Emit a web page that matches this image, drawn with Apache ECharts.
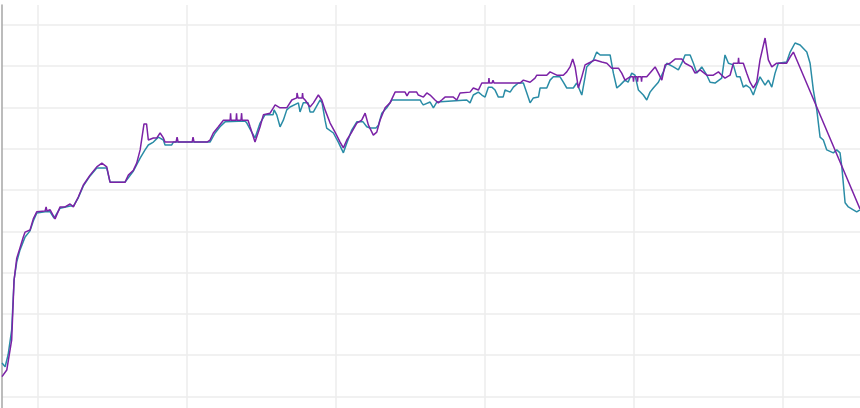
<!DOCTYPE html>
<html lang="en">
<head>
    <meta charset="UTF-8">
    <title>Two traces</title>
    <script src="https://cdn.jsdelivr.net/npm/echarts@6/dist/echarts.min.js"></script>
    <style>
        html, body { margin: 0; padding: 0; background: #fff; }
    </style>
</head>
<body>
<div id="chart" style="width: 860px; height: 408px;"></div>

<script type="text/javascript">
    // axis range (no labels are shown in the picture)
    var xRange = [76.0, 651.8];
    var yRange = [-2.8, 94.8];

    // teal trace: [x, y]
    var tealData = [
        [76.0, 8.1], [78.1, 7.2], [80.1, 10.1], [82.5, 16.1], [84.1, 28.2], [85.9, 32.6], [88.1, 35.5],
        [91.5, 38.6], [94.8, 40.1], [97.0, 42.5], [99.3, 44.4], [104.9, 44.7], [108.3, 44.7], [110.9, 43.2],
        [115.0, 45.6], [121.7, 46.1], [123.9, 46.1], [127.2, 48.1], [130.6, 51.0], [135.1, 53.4], [139.6, 55.3],
        [146.3, 55.3], [148.5, 51.9], [158.6, 51.9], [164.2, 54.6], [168.7, 57.7], [172.0, 59.7], [174.2, 60.9],
        [177.6, 61.6], [180.9, 62.8], [184.3, 62.1], [185.4, 60.9], [189.9, 60.9], [191.0, 61.6], [215.6, 61.6],
        [219.0, 63.8], [222.3, 65.3], [225.7, 66.5], [239.1, 66.7], [240.3, 66.2], [243.6, 64.0], [245.8, 62.6],
        [249.2, 66.2], [252.5, 68.2], [257.9, 68.2], [258.6, 69.4], [260.4, 68.2], [262.6, 65.3], [264.8, 66.9],
        [267.1, 69.4], [269.3, 70.1], [274.9, 71.1], [276.0, 68.9], [278.2, 71.1], [281.4, 71.1], [282.7, 68.9],
        [285.0, 68.9], [289.5, 71.8], [290.8, 71.1], [292.8, 66.9], [293.9, 65.0], [298.4, 63.8], [301.7, 61.6],
        [305.1, 59.0], [307.4, 61.4], [310.7, 64.5], [314.1, 66.5], [318.3, 66.5], [320.8, 65.3], [323.0, 65.0],
        [327.0, 65.0], [328.6, 65.7], [330.9, 68.6], [334.2, 69.9], [337.6, 71.8], [356.6, 71.8], [357.7, 71.1],
        [358.8, 70.6], [363.3, 71.3], [365.5, 69.9], [367.8, 71.3], [387.9, 71.8], [390.1, 71.1], [392.3, 73.0],
        [395.7, 73.7], [398.0, 73.0], [400.2, 72.5], [402.4, 74.9], [404.7, 74.9], [406.9, 74.2], [409.1, 72.5],
        [412.3, 72.5], [413.6, 74.2], [417.0, 73.7], [419.2, 74.9], [422.5, 75.9], [425.9, 75.9], [428.2, 73.5],
        [430.4, 71.1], [432.6, 72.3], [436.0, 72.5], [437.1, 74.7], [441.6, 74.7], [443.8, 76.6], [446.0, 77.4],
        [450.5, 77.4], [452.7, 76.1], [455.0, 74.7], [459.4, 74.7], [461.7, 75.9], [465.1, 73.0], [467.3, 77.4],
        [468.4, 79.8], [472.9, 81.5], [475.1, 83.4], [477.4, 82.7], [484.1, 82.7], [486.3, 78.3], [488.6, 74.7],
        [490.8, 75.4], [494.1, 76.6], [496.2, 76.1], [498.6, 78.3], [500.8, 77.8], [503.1, 74.2], [506.4, 73.0],
        [508.7, 71.8], [510.9, 73.7], [513.1, 74.7], [516.5, 76.1], [519.8, 78.6], [522.1, 80.7], [526.6, 79.8],
        [529.9, 79.1], [532.2, 80.7], [534.4, 82.7], [537.8, 82.7], [540.0, 80.7], [542.3, 78.3], [545.6, 79.8],
        [549.0, 77.8], [551.2, 76.1], [554.5, 75.9], [559.0, 77.1], [561.2, 82.7], [563.5, 80.7], [566.8, 80.3],
        [569.1, 77.4], [571.3, 77.4], [573.5, 74.9], [575.3, 75.4], [578.0, 74.7], [580.2, 73.0], [582.5, 75.4],
        [584.7, 77.4], [588.1, 75.4], [590.3, 76.6], [592.6, 74.9], [594.8, 78.3], [597.0, 80.7], [602.6, 81.0],
        [604.9, 83.4], [608.2, 85.6], [611.6, 85.1], [616.1, 83.4], [618.3, 80.7], [620.5, 74.2], [622.8, 69.4],
        [625.0, 62.8], [627.2, 62.1], [629.5, 59.7], [633.9, 59.0], [636.2, 59.7], [638.4, 59.0], [639.6, 55.6],
        [641.8, 46.9], [644.0, 45.9], [647.3, 45.2], [649.6, 44.7], [651.8, 45.2]
    ];

    // purple trace: [x, y]
    var purpleData = [
        [76.0, 4.8], [79.2, 6.4], [82.5, 13.7], [84.1, 28.2], [85.9, 33.5], [88.1, 36.0], [90.3, 38.6],
        [91.5, 39.8], [94.8, 40.3], [97.0, 43.0], [99.3, 44.7], [104.9, 44.9], [105.6, 45.9], [106.2, 44.9],
        [108.3, 45.2], [111.6, 43.0], [115.0, 45.9], [118.3, 45.9], [121.7, 46.6], [123.9, 45.9], [127.2, 48.3],
        [130.6, 51.2], [135.1, 53.6], [139.6, 55.6], [143.0, 56.5], [146.3, 55.6], [148.5, 51.9], [158.6, 51.9],
        [160.8, 53.6], [164.2, 54.8], [166.4, 56.5], [168.7, 59.7], [171.3, 66.0], [173.0, 66.0], [174.2, 62.1],
        [177.6, 62.6], [179.9, 62.6], [182.1, 63.8], [184.3, 62.6], [185.4, 61.6], [192.8, 61.6], [193.5, 62.8],
        [194.2, 61.6], [203.6, 61.6], [204.2, 62.8], [204.9, 61.6], [213.6, 61.6], [215.6, 62.1], [217.8, 63.8],
        [221.2, 65.3], [224.6, 66.9], [229.1, 66.9], [229.4, 68.6], [229.7, 66.9], [233.1, 66.9], [233.4, 68.6],
        [233.7, 66.9], [236.4, 66.9], [236.8, 68.6], [237.1, 66.9], [241.1, 66.9], [242.5, 65.3], [245.8, 61.6],
        [249.2, 65.3], [251.4, 68.2], [255.9, 68.6], [258.1, 69.9], [259.3, 70.6], [262.6, 69.9], [267.1, 69.9],
        [270.5, 71.8], [273.8, 72.3], [274.0, 73.5], [274.7, 72.3], [277.4, 72.3], [277.7, 73.5], [278.0, 72.3],
        [279.4, 71.8], [282.7, 70.1], [285.0, 71.1], [288.3, 73.0], [290.6, 71.8], [292.8, 69.4], [296.2, 66.2],
        [299.5, 64.0], [302.9, 61.6], [305.1, 60.2], [307.4, 62.1], [310.7, 64.0], [314.1, 66.2], [317.4, 66.9],
        [319.7, 68.6], [321.9, 65.7], [325.2, 63.3], [327.5, 64.0], [329.7, 66.9], [333.1, 69.9], [336.4, 71.1],
        [339.8, 73.7], [346.5, 73.7], [347.8, 72.8], [349.2, 73.7], [354.3, 73.7], [355.4, 73.0], [358.8, 72.5],
        [361.1, 73.5], [363.3, 73.0], [366.6, 71.8], [368.8, 71.1], [371.1, 71.8], [373.3, 72.5], [378.9, 72.5],
        [381.2, 71.8], [383.4, 73.5], [390.1, 73.7], [392.3, 74.7], [395.7, 74.2], [398.0, 75.9], [402.5, 75.9],
        [402.8, 77.1], [403.1, 75.9], [404.9, 75.9], [405.5, 76.6], [406.2, 75.9], [410.3, 75.9], [423.7, 75.9],
        [425.9, 76.6], [430.4, 76.1], [433.7, 77.1], [434.9, 77.8], [441.6, 77.8], [443.8, 78.6], [448.3, 77.8],
        [452.7, 77.8], [455.0, 78.6], [457.2, 79.8], [459.0, 81.7], [460.6, 79.8], [462.8, 74.7], [465.1, 77.4],
        [467.3, 80.3], [469.5, 80.7], [474.0, 81.5], [478.5, 81.0], [481.9, 80.7], [485.2, 79.5], [489.7, 79.5],
        [491.9, 78.3], [494.1, 76.6], [497.5, 77.4], [499.5, 77.4], [499.8, 76.2], [500.1, 77.4], [502.2, 77.4],
        [502.5, 76.2], [502.8, 77.4], [504.9, 77.4], [505.2, 76.2], [505.5, 77.4], [508.7, 77.4], [514.3, 79.8],
        [516.5, 78.3], [518.8, 76.6], [521.0, 80.3], [524.3, 80.7], [527.7, 81.7], [532.2, 81.7], [534.4, 80.7],
        [538.9, 79.8], [541.1, 78.3], [544.5, 79.1], [549.0, 77.8], [553.4, 77.8], [556.8, 78.6], [559.0, 77.8],
        [561.2, 77.1], [564.6, 77.8], [566.8, 80.7], [570.0, 80.7], [570.3, 82.0], [570.6, 80.7], [573.5, 80.7],
        [575.8, 78.3], [578.0, 76.1], [580.2, 74.7], [582.5, 76.1], [584.7, 81.5], [588.1, 86.8], [590.3, 81.5],
        [592.6, 79.8], [595.9, 80.7], [602.6, 80.7], [604.9, 82.2], [607.1, 83.4], [651.8, 45.4]
    ];

    var tealColor = '#2a8ca6';
    var purpleColor = '#7b22a6';
    var gridColor = '#ececec';

    var myChart = echarts.init(document.getElementById('chart'), null, { renderer: 'canvas' });

    var option = {
        animation: false,
        backgroundColor: '#ffffff',
        grid: { left: 2, right: 0, top: 5, bottom: 0, containLabel: false },
        xAxis: {
            type: 'value',
            min: xRange[0],
            max: xRange[1],
            minInterval: 100,
            maxInterval: 100,
            axisLine: { show: false },
            axisTick: { show: false },
            axisLabel: { show: false },
            splitLine: {
                show: true,
                showMinLine: false,
                showMaxLine: false,
                lineStyle: { color: gridColor, width: 1.5 }
            }
        },
        yAxis: {
            type: 'value',
            min: yRange[0],
            max: yRange[1],
            minInterval: 10,
            maxInterval: 10,
            axisLine: { show: true, lineStyle: { color: '#a6a6a6', width: 1.5 } },
            axisTick: { show: false },
            axisLabel: { show: false },
            splitLine: {
                show: true,
                showMinLine: false,
                showMaxLine: false,
                lineStyle: { color: gridColor, width: 1.5 }
            }
        },
        series: [
            {
                name: 'teal',
                type: 'line',
                data: tealData,
                showSymbol: false,
                symbol: 'none',
                z: 2,
                lineStyle: { color: tealColor, width: 1.5 }
            },
            {
                name: 'purple',
                type: 'line',
                data: purpleData,
                showSymbol: false,
                symbol: 'none',
                z: 3,
                lineStyle: { color: purpleColor, width: 1.5 }
            }
        ]
    };

    myChart.setOption(option);
</script>
</body>
</html>
